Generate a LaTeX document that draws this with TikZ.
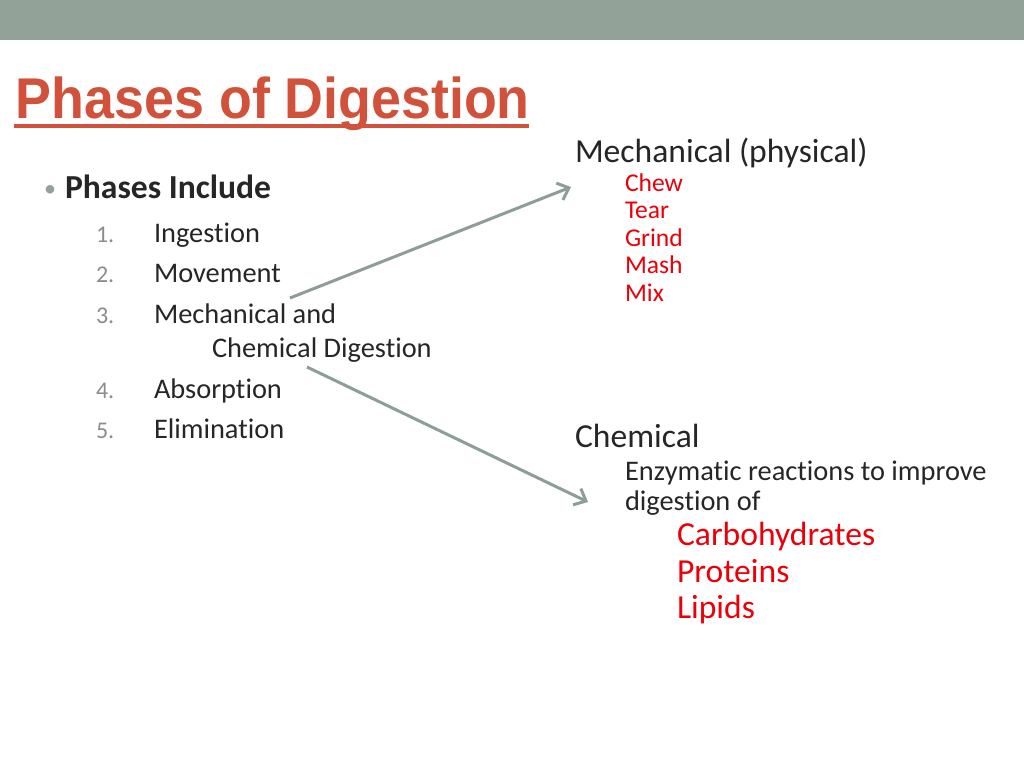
\documentclass[tikz,border=0pt]{standalone}
\usepackage{fontspec}
\setmainfont{Carlito}[RawFeature={-liga}]
\newfontfamily\titlefont{Liberation Sans}
\usetikzlibrary{arrows.meta,calc}
\definecolor{bargray}{RGB}{147,162,153}
\definecolor{titlered}{RGB}{209,81,58}
\definecolor{bodytext}{RGB}{38,38,38}
\definecolor{numgray}{RGB}{140,140,140}
\definecolor{itemred}{RGB}{235,0,10}
\definecolor{arrowgray}{RGB}{142,158,150}
\tikzset{
  txt/.style={anchor=base west, inner sep=0pt, outer sep=0pt, text=bodytext},
  lvlone/.style={txt, font=\fontsize{33.6}{40}\selectfont},
  lvltwo/.style={txt, font=\fontsize{28.4}{34}\selectfont},
  numstyle/.style={txt, text=numgray, font=\fontsize{24}{30}\selectfont},
  smallred/.style={txt, text=itemred, font=\fontsize{25.6}{30}\selectfont},
  bigred/.style={txt, text=itemred, font=\fontsize{33.6}{40}\selectfont},
  link/.style={draw=arrowgray, line width=3pt, -{Straight Barb[length=10pt,width=18pt,line width=3pt]}},
}
\begin{document}
\begin{tikzpicture}[x=1pt,y=-1pt]
\useasboundingbox (0,0) rectangle (1024,768);
\fill[white] (0,0) rectangle (1024,768);
\fill[bargray] (0,0) rectangle (1024,40.5);
% title
\node[txt, text=titlered, font=\titlefont\bfseries\fontsize{57.5}{64}\selectfont] (title) at (16,118) {\scalebox{0.935}[1]{Phases of Digestion}};
\fill[titlered] (14,123.5) rectangle (529,127.5);
% left column
\node[txt, text=bargray, font=\fontsize{24}{30}\selectfont] (bul) at (44,196) {\textbullet};
\node[lvlone, font=\bfseries\fontsize{33.6}{40}\selectfont] (phinc) at (65,198) {Phases Include};
\node[numstyle] (n1) at (96,242) {1.};
\node[lvltwo] (i1) at (154,242) {Ingestion};
\node[numstyle] (n2) at (96,282) {2.};
\node[lvltwo] (i2) at (154,282) {Movement};
\node[numstyle] (n3) at (96,323) {3.};
\node[lvltwo] (i3) at (154,323) {Mechanical and};
\node[lvltwo] (i3b) at (212,357) {Chemical Digestion};
\node[numstyle] (n4) at (96,398) {4.};
\node[lvltwo] (i4) at (154,398) {Absorption};
\node[numstyle] (n5) at (96,438) {5.};
\node[lvltwo] (i5) at (154,438) {Elimination};
% right column
\node[lvlone] (mech) at (575,162) {Mechanical (physical)};
\node[smallred] (r1) at (625,191) {Chew};
\node[smallred] (r2) at (625,218.5) {Tear};
\node[smallred] (r3) at (625,246) {Grind};
\node[smallred] (r4) at (625,273.5) {Mash};
\node[smallred] (r5) at (625,301) {Mix};
\node[lvlone] (chem) at (575,447) {Chemical};
\node[lvltwo] (enz) at (625,480) {Enzymatic reactions to improve};
\node[lvltwo] (dig) at (625,510) {digestion of};
\node[bigred] (c1) at (677,545) {Carbohydrates};
\node[bigred] (c2) at (677,582) {Proteins};
\node[bigred] (c3) at (677,618) {Lipids};
% connectors
\coordinate (s1) at (290,298);
\coordinate (e1) at (571,187);
\coordinate (s2) at (307,367);
\coordinate (e2) at (588,502);
\draw[link] (s1) -- (e1);
\draw[link] (s2) -- (e2);
\end{tikzpicture}
\end{document}
